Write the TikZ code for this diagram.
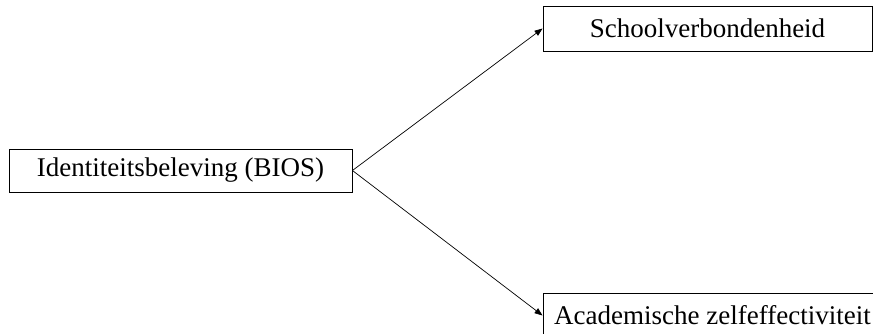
\documentclass[tikz,border=0pt]{standalone}
\usepackage{fontspec}
\setmainfont{Liberation Serif}
\usetikzlibrary{arrows.meta}
\begin{document}
\begin{tikzpicture}[x=1pt,y=-1pt,
  box/.style={draw=black,line width=0.9pt,inner sep=0pt,font=\fontsize{27}{32}\selectfont},
  link/.style={black,line width=0.7pt,-{Triangle[length=8pt,width=6pt]}}]
\useasboundingbox (0,0) rectangle (873,333);
\node [box,minimum width=343pt,minimum height=43pt] (bios) at (180.5,170.5) {Identiteitsbeleving (BIOS)};
\node [box,minimum width=329pt,minimum height=45pt] (school) at (707.5,28.5) {Schoolverbondenheid};
\node [box,minimum width=339pt,minimum height=45pt] (acad) at (712.5,315.5) {Academische zelfeffectiviteit};
\draw [link] (bios.east) -- (school.west);
\draw [link] (bios.east) -- (acad.west);
\end{tikzpicture}
\end{document}
